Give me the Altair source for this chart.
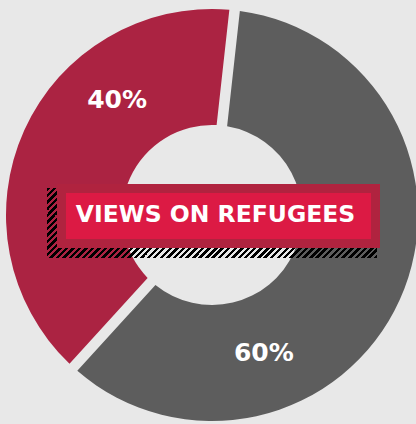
import math
import altair as alt
import pandas as pd

# ---- data ----
categories = ["Gray share", "Red share"]
values = [60, 40]
labels = ["60%", "40%"]
order = [1, 2]
colors = ["#5d5d5d", "#ab2342"]
title_text = ["VIEWS ON REFUGEES"]

df = pd.DataFrame({"category": categories, "value": values, "label": labels, "order": order})

BG = "#e8e8e8"
CX, CY = 212, 215
OFFSET = 0.11

theta_scale = alt.Scale(domain=[0, 100], range=[OFFSET, OFFSET + 2 * math.pi])
color_enc = alt.Color("category:N", scale=alt.Scale(domain=categories, range=colors), legend=None)

base = alt.Chart(df)

arcs = base.mark_arc(outerRadius=206, innerRadius=90, padAngle=0.047).encode(
    theta=alt.Theta("value:Q", stack=True, scale=theta_scale),
    color=color_enc,
    order=alt.Order("order:Q"),
    x=alt.value(CX), y=alt.value(CY),
)


def pct_label(cat, dx, dy):
    return base.transform_window(
        cum="sum(value)", sort=[alt.SortField("order")]
    ).transform_calculate(
        mid="datum.cum - datum.value / 2"
    ).transform_filter(
        alt.datum.category == cat
    ).mark_text(
        radius=148, font="DejaVu Sans", fontWeight="bold", fontSize=25,
        color="white", dx=dx, dy=dy, align="center", baseline="middle",
    ).encode(
        theta=alt.Theta("mid:Q", stack=None, scale=theta_scale),
        text="label:N",
        x=alt.value(CX), y=alt.value(CY),
    )


lab_red = pct_label("Red share", 40, -54)
lab_gray = pct_label("Gray share", -83, 77)

# ---- title box decoration ----
tdf = pd.DataFrame({"title": title_text})
tb = alt.Chart(tdf)

# hatched shadow via a striped linear gradient ("/" stripes)
X0, X1, Y0, Y1 = 47, 377, 188, 258
W, H = X1 - X0, Y1 - Y0
period = 6.5
dark = 3.5
total = W + H
k = W * total / (W * W + H * H)
stops = []
pos = 0.0
while pos < total:
    a = pos / total
    b = min(pos + dark, total) / total
    c = min(pos + period, total) / total
    stops += [
        alt.GradientStop(offset=a, color="#000000"),
        alt.GradientStop(offset=b, color="#000000"),
        alt.GradientStop(offset=b, color="rgba(0,0,0,0)"),
        alt.GradientStop(offset=c, color="rgba(0,0,0,0)"),
    ]
    pos += period

grad = alt.LinearGradient(gradient="linear", stops=stops, x1=0, y1=0, x2=k, y2=k * H / W)

shadow = tb.mark_rect(fill=grad).encode(
    x=alt.value(X0), x2=alt.value(X1), y=alt.value(Y0), y2=alt.value(Y1)
)
outer_box = tb.mark_rect(color="#b0233f").encode(
    x=alt.value(57), x2=alt.value(380), y=alt.value(184), y2=alt.value(248)
)
inner_box = tb.mark_rect(color="#dc1a44").encode(
    x=alt.value(66), x2=alt.value(371), y=alt.value(193), y2=alt.value(239)
)
title = tb.mark_text(font="DejaVu Sans", fontWeight="bold", fontSize=23.5, color="white",
                     align="center", baseline="middle").encode(
    x=alt.value(215.5), y=alt.value(215), text="title:N"
)

chart = alt.layer(arcs, lab_red, lab_gray, shadow, outer_box, inner_box, title).properties(
    width=416, height=424, padding=0, background=BG,
    autosize=alt.AutoSizeParams(type="none"),
).configure_view(stroke=None)

chart.save("out.html", embed_options={"renderer": "svg", "actions": False})
